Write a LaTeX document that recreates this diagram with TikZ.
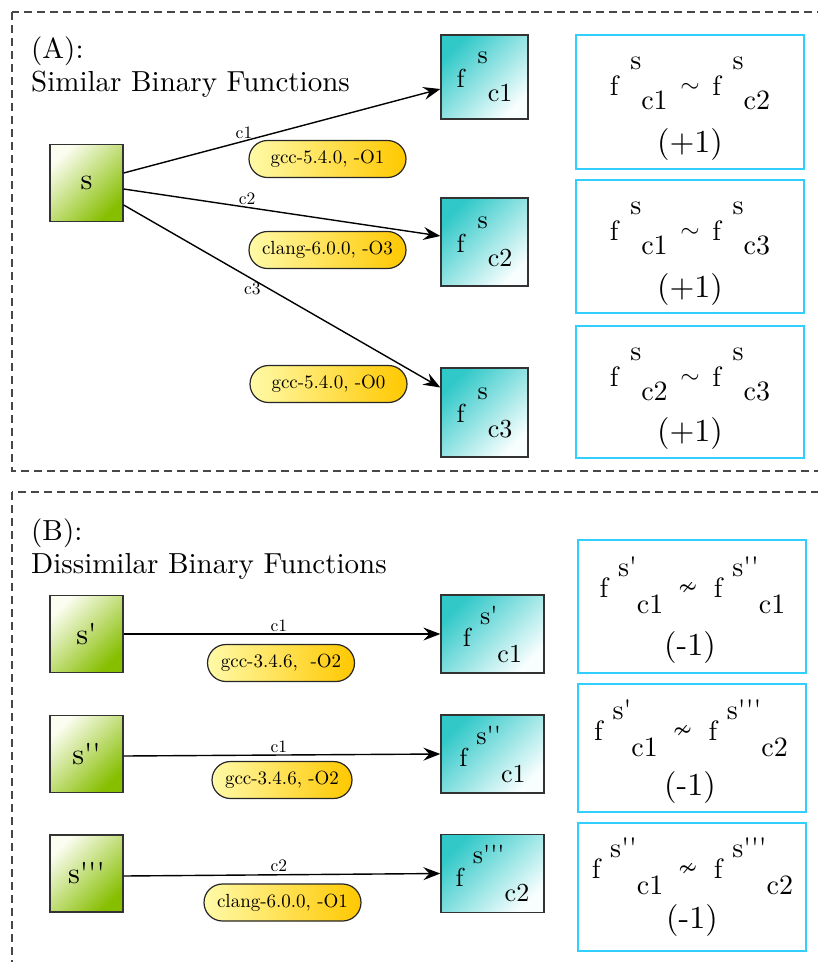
\documentclass[tikz,border=0pt]{standalone}
\usepackage{fontspec}
\setmainfont{lmroman10-regular.otf}
\usepackage{amssymb}
\usepackage{graphicx}
\usetikzlibrary{arrows.meta,shapes.misc}

\definecolor{framegray}{HTML}{474747}
\definecolor{cmpblue}{HTML}{30CFFF}
\definecolor{srcpale}{HTML}{FBFDF0}
\definecolor{srcgreen}{HTML}{86BE00}
\definecolor{fteal}{HTML}{30C8C8}
\definecolor{fpale}{HTML}{F8FEFE}
\definecolor{pillpale}{HTML}{FFFAA8}
\definecolor{pillgold}{HTML}{FFC800}

\newcommand\fsz[1]{\fontsize{#1}{#1}\selectfont}
% f followed by a raised upper index and a lowered lower index
% #1 gap after f, #2 raise, #3 upper index, #4 drop, #5 lower index
\newcommand\fidx[5]{f\hspace{#1}\raisebox{#2}{#3}\raisebox{-#4}{#5}}
\newcommand\pr{\textquotesingle}
\newcommand\simrel{\hspace{0.45em}\raisebox{0.1em}{$\sim$}\hspace{0.45em}}
\newcommand\nsimrel{\hspace{0.55em}\raisebox{0.12em}{\scalebox{0.85}{$\nsim$}}\hspace{0.6em}}

\begin{document}
\begin{tikzpicture}[x=1pt,y=-1pt,
  section/.style={draw=framegray, line width=1.7pt, dash pattern=on 8pt off 5pt},
  heading/.style={anchor=base west, inner sep=0pt, font=\fsz{29}},
  srcbox/.style={draw=black!80, line width=1.3pt, minimum width=73pt,
    minimum height=77pt, inner sep=0pt, top color=srcpale,
    bottom color=srcgreen, shading angle=45, font=\fsz{30}},
  fnbox/.style={draw=black!80, line width=1.3pt, inner sep=0pt,
    top color=fteal, bottom color=fpale, shading angle=45, font=\fsz{26}},
  cmpbox/.style={draw=cmpblue, line width=1.8pt, minimum width=228pt, inner sep=0pt},
  cmptext/.style={anchor=base, inner sep=0pt, font=\fsz{28}},
  scoretext/.style={anchor=base, inner sep=0pt, font=\fsz{32}},
  pill/.style={rounded rectangle, draw=black!85, line width=1.2pt,
    minimum height=37pt, inner sep=0pt, left color=pillpale,
    right color=pillgold, font=\fsz{19}},
  flow/.style={line width=1.4pt, -{Stealth[length=17pt,width=13pt,inset=6pt]}},
  cl/.style={font=\fsz{17.5}, inner sep=2pt},
]
\useasboundingbox (0,0) rectangle (818,962);
\clip (0,0) rectangle (818,962);

% ---------- (A) similar binary functions ----------
\draw[section] (12,12) rectangle (850,471);
\node[heading] (titleA) at (31,58) {(A):};
\node[heading] (subA) at (31,91) {Similar Binary Functions};

\node[srcbox] (s) at (86.5,183) {s};

\node[fnbox, minimum width=87pt, minimum height=84pt] (fa1) at (484.5,77)
  {\fidx{0.5em}{0.92em}{s}{0.54em}{c1}};
\node[fnbox, minimum width=87pt, minimum height=88pt] (fa2) at (484.5,242)
  {\fidx{0.5em}{0.92em}{s}{0.54em}{c2}};
\node[fnbox, minimum width=87pt, minimum height=89pt] (fa3) at (484.5,412.5)
  {\fidx{0.5em}{0.92em}{s}{0.54em}{c3}};

\draw[flow] ([yshift=10pt]s.east) -- node[cl, above, pos=0.38] {c1} ([yshift=-12pt]fa1.west);
\draw[flow] ([yshift=-6pt]s.east) -- node[cl, above, pos=0.39] {c2} ([yshift=6pt]fa2.west);
\draw[flow] ([yshift=-22pt]s.east) -- node[cl, left=6pt, pos=0.46] {c3} ([yshift=25pt]fa3.west);

\node[pill, minimum width=157pt] (pa1) at (327.5,159) {gcc-5.4.0, -O1};
\node[pill, minimum width=157pt] (pa2) at (327.5,250) {clang-6.0.0, -O3};
\node[pill, minimum width=157pt] (pa3) at (328.5,384) {gcc-5.4.0, -O0};

\node[cmpbox, minimum height=134pt] (ca1) at (690,102) {};
\node[cmptext] (ca1t) at (690,95)
  {\fidx{0.42em}{0.9em}{s}{0.5em}{c1}\simrel\fidx{0.42em}{0.9em}{s}{0.5em}{c2}};
\node[scoretext] (ca1s) at (690,152) {(+1)};

\node[cmpbox, minimum height=133pt] (ca2) at (690,246.5) {};
\node[cmptext] (ca2t) at (690,240)
  {\fidx{0.42em}{0.9em}{s}{0.5em}{c1}\simrel\fidx{0.42em}{0.9em}{s}{0.5em}{c3}};
\node[scoretext] (ca2s) at (690,297) {(+1)};

\node[cmpbox, minimum height=132pt] (ca3) at (690,392) {};
\node[cmptext] (ca3t) at (690,386)
  {\fidx{0.42em}{0.9em}{s}{0.5em}{c2}\simrel\fidx{0.42em}{0.9em}{s}{0.5em}{c3}};
\node[scoretext] (ca3s) at (690,441) {(+1)};

% ---------- (B) dissimilar binary functions ----------
\draw[section] (12,492) rectangle (850,1000);
\node[heading] (titleB) at (31,540) {(B):};
\node[heading] (subB) at (31,573) {Dissimilar Binary Functions};

\node[srcbox] (s1) at (86.5,634) {s\pr};
\node[srcbox] (s2) at (86.5,754) {s\pr\pr};
\node[srcbox] (s3) at (86.5,873.5) {s\pr\pr\pr};

\node[fnbox, minimum width=103pt, minimum height=78pt] (fb1) at (492.5,634)
  {\fidx{0.35em}{0.88em}{s\pr}{0.58em}{c1}};
\node[fnbox, minimum width=103pt, minimum height=78pt] (fb2) at (492.5,754)
  {\fidx{0.35em}{0.88em}{s\pr\pr}{0.58em}{c1}};
\node[fnbox, minimum width=103pt, minimum height=78pt] (fb3) at (492.5,873.5)
  {\fidx{0.35em}{0.88em}{s\pr\pr\pr}{0.58em}{c2}};

\draw[flow] (s1.east) -- node[cl, above, pos=0.49] {c1} (fb1.west);
\draw[flow] ([yshift=-2pt]s2.east) -- node[cl, above, pos=0.49] {c1} (fb2.west);
\draw[flow] ([yshift=-2.5pt]s3.east) -- node[cl, above, pos=0.49] {c2} (fb3.west);

\node[pill, minimum width=147pt] (pb1) at (281,663) {gcc-3.4.6,\ \ -O2};
\node[pill, minimum width=140pt] (pb2) at (282,780) {gcc-3.4.6, -O2};
\node[pill, minimum width=157pt] (pb3) at (282.5,902.5) {clang-6.0.0, -O1};

\node[cmpbox, minimum height=133pt] (cb1) at (692,606.5) {};
\node[cmptext] (cb1t) at (692.5,597)
  {\fidx{0.35em}{0.72em}{s\pr}{0.58em}{c1}\nsimrel\fidx{0.35em}{0.72em}{s\pr\pr}{0.58em}{c1}};
\node[scoretext] (cb1s) at (690,655) {(-1)};

\node[cmpbox, minimum height=128pt] (cb2) at (692,748) {};
\node[cmptext] (cb2t) at (691,740)
  {\fidx{0.35em}{0.72em}{s\pr}{0.58em}{c1}\nsimrel\fidx{0.35em}{0.72em}{s\pr\pr\pr}{0.58em}{c2}};
\node[scoretext] (cb2s) at (690,795) {(-1)};

\node[cmpbox, minimum height=128pt] (cb3) at (692,887) {};
\node[cmptext] (cb3t) at (692.5,878)
  {\fidx{0.35em}{0.72em}{s\pr\pr}{0.58em}{c1}\nsimrel\fidx{0.35em}{0.72em}{s\pr\pr\pr}{0.58em}{c2}};
\node[scoretext] (cb3s) at (692,928) {(-1)};
\end{tikzpicture}
\end{document}
